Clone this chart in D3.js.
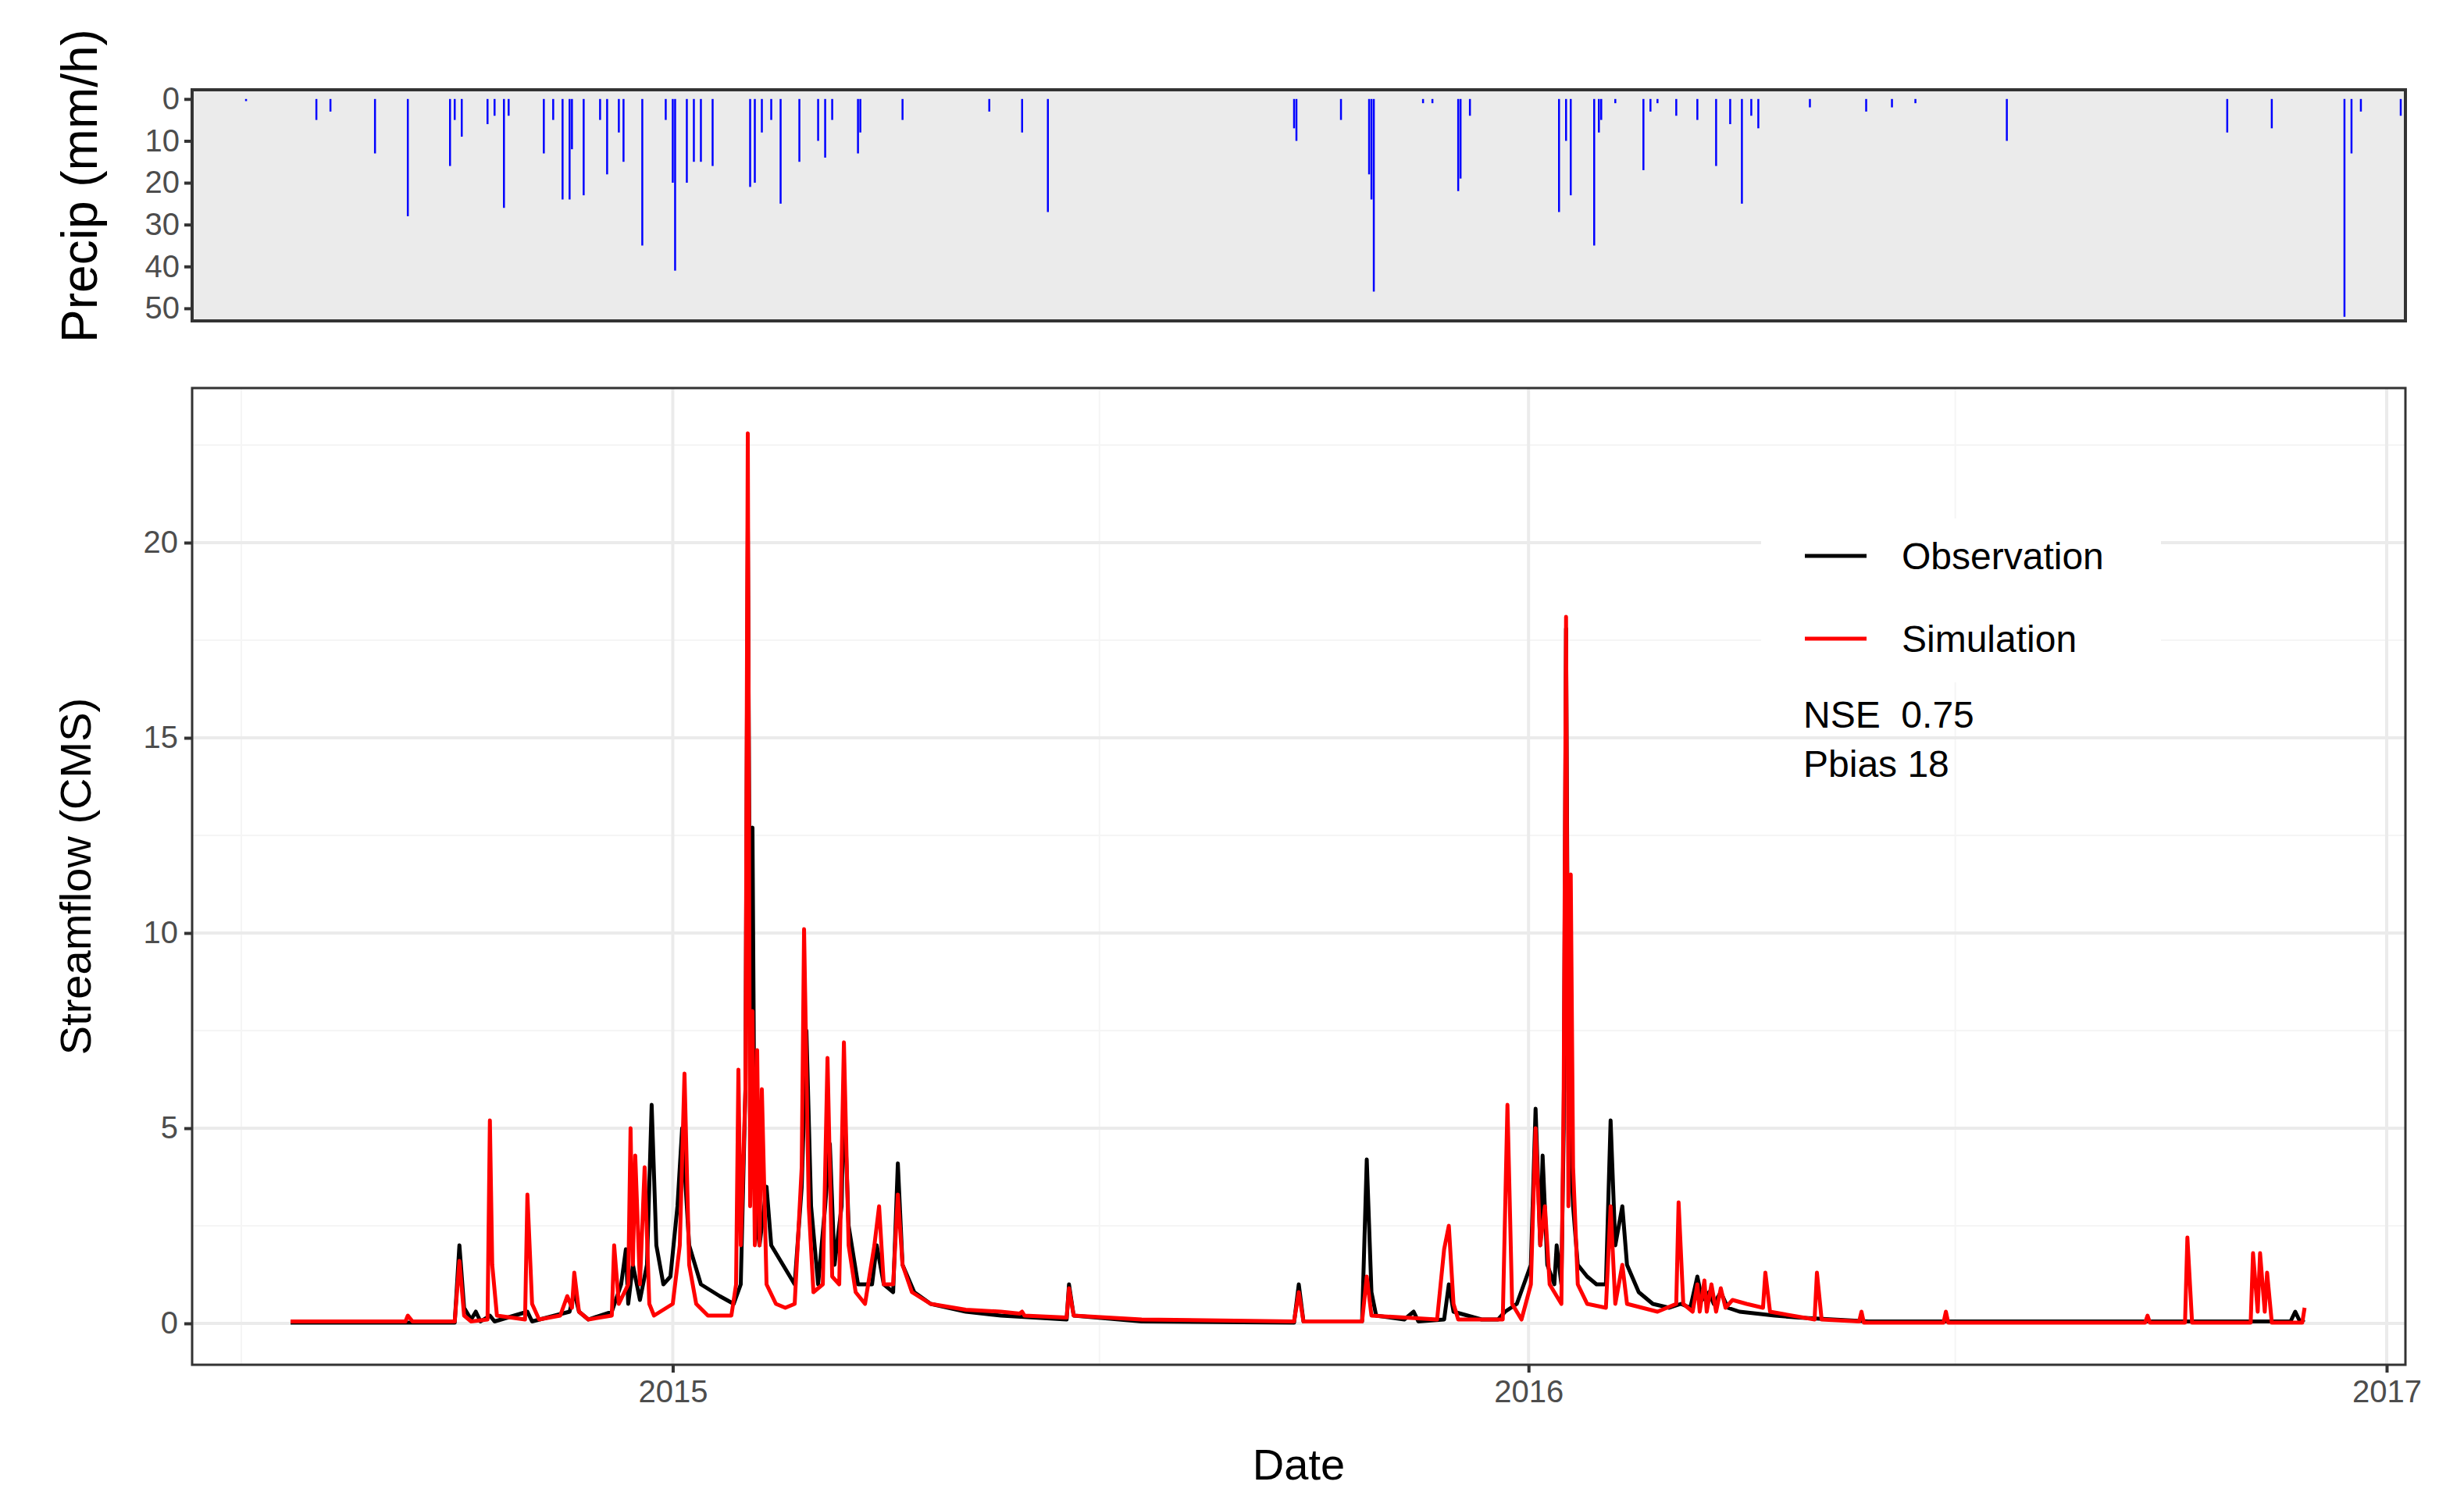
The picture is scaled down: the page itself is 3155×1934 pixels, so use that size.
<!DOCTYPE html>
<html>
<head>
<meta charset="utf-8">
<script src="https://cdn.jsdelivr.net/npm/d3@7"></script>
<style>
body { margin: 0; background: #fff; }
text { font-family: Arial, "Liberation Sans", sans-serif; }
</style>
</head>
<body>
<script>
// days counted from 2015-01-01
var precipDay = [-182, -152, -146, -127, -113, -95, -93, -90, -79, -76, -72, -70, -55, -51, -47, -44, -43, -38, -31, -28,
                 -23, -21, -13, -3, 0, 1, 6, 9, 12, 17, 33, 35, 38, 42, 46, 54, 62, 65, 68, 79, 80, 98, 135, 149, 160,
                 265, 266, 285, 297, 298, 299, 320, 324, 335, 336, 340, 378, 381, 383, 393, 395, 396, 402, 414, 417, 420, 428,
                 437, 445, 451, 456, 460, 463, 485, 509, 520, 530, 569, 663, 682, 713, 716, 720, 737];
var precipVal = [0.5, 5, 3, 13, 28, 16, 5, 9, 6, 4, 26, 4, 13, 5, 24, 24, 12, 23, 5, 18,
                 8, 15, 35, 5, 20, 41, 20, 15, 15, 16, 21, 20, 8, 5, 25, 15, 10, 14, 5, 13, 8, 5, 3, 8, 27,
                 7, 10, 5, 18, 24, 46, 1, 1, 22, 19, 4, 27, 10, 23, 35, 8, 5, 1, 17, 3, 1, 4,
                 5, 16, 6, 25, 4, 7, 2, 3, 2, 1, 10, 8, 7, 52, 13, 3, 4];

var obsDay = [-163, -93, -91, -89, -86, -84, -82, -78, -76, -62, -60, -44, -42, -40, -36, -26, -22, -20, -19, -17, -14, -11, -9, -7, -4, -1,
              2, 4, 7, 12, 20, 26, 29, 31, 32, 33, 34, 35, 37, 40, 42, 47, 52, 55, 57, 59, 62, 65, 67, 69, 72, 73, 75, 79, 85, 87, 90, 94,
              96, 98, 103, 110, 125, 140, 168, 169, 171, 200, 265, 267, 269, 294, 296, 298, 300, 312, 316, 318, 329, 331, 333, 345, 352,
              355, 360, 366, 368, 370, 371, 373, 376, 377, 379, 380, 381, 382, 384, 386, 390, 394, 398, 400, 402, 405, 407, 412, 418, 425,
              430, 434, 437, 439, 442, 444, 447, 450, 455, 470, 480, 495, 510, 690, 692, 694, 696];
var obsVal = [0.02, 0.02, 2.0, 0.4, 0.1, 0.3, 0.05, 0.2, 0.05, 0.3, 0.05, 0.3, 0.8, 0.3, 0.1, 0.3, 1.0, 1.9, 0.5, 1.5, 0.6, 1.5, 5.6, 2.0, 1.0, 1.2,
              3.0, 5.0, 2.0, 1.0, 0.7, 0.5, 1.0, 6.0, 20.4, 8.0, 12.7, 3.0, 2.0, 3.5, 2.0, 1.5, 1.0, 3.5, 7.5, 3.0, 1.0, 3.0, 4.6, 1.5, 3.0, 6.0, 2.5, 1.0, 1.0, 2.0, 1.0, 0.8,
              4.1, 1.5, 0.8, 0.5, 0.3, 0.2, 0.1, 1.0, 0.2, 0.05, 0.02, 1.0, 0.05, 0.05, 4.2, 0.8, 0.2, 0.1, 0.3, 0.05, 0.1, 1.0, 0.3, 0.1, 0.1,
              0.3, 0.5, 1.5, 5.5, 2.0, 4.3, 1.5, 1.0, 2.0, 1.0, 5.0, 17.8, 6.0, 3.0, 1.5, 1.2, 1.0, 1.0, 5.2, 2.0, 3.0, 1.5, 0.8, 0.5, 0.4,
              0.5, 0.4, 1.2, 0.6, 0.8, 0.5, 0.8, 0.4, 0.3, 0.2, 0.15, 0.1, 0.05, 0.05, 0.3, 0.05, 0.1];

var simDay = [-163, -114, -113, -111, -93, -91, -89, -86, -79, -78, -77, -75, -63, -62, -60, -57, -48, -45, -43, -42, -40, -36, -26, -25, -23, -19, -18,
              -17, -16, -14, -12, -10, -8, 0, 3, 5, 7, 10, 15, 25, 27, 28, 29, 31, 32, 33, 34, 35, 36, 37, 38, 40, 44, 48, 52, 55, 56, 58, 60,
              64, 66, 68, 71, 73, 75, 78, 82, 86, 88, 90, 94, 96, 98, 102, 110, 125, 140, 148, 149, 150, 168, 169, 171, 200, 265, 267, 269,
              294, 296, 298, 326, 329, 331, 333, 335, 354, 356, 358, 362, 366, 368, 370, 372, 374, 379, 380, 381, 382, 383, 384, 386, 390,
              398, 400, 402, 405, 407, 420, 428, 429, 431, 435, 437, 438, 440, 441, 443, 445, 447, 449, 452, 458, 465, 466, 468, 487, 488,
              490, 506, 507, 508, 542, 543, 544, 628, 629, 630, 645, 646, 648, 673, 674, 676, 677, 679, 680, 682, 695, 696];
var simVal = [0.05, 0.05, 0.2, 0.05, 0.05, 1.6, 0.2, 0.05, 0.1, 5.2, 1.5, 0.2, 0.1, 3.3, 0.5, 0.1, 0.2, 0.7, 0.4, 1.3, 0.3, 0.1, 0.2, 2.0, 0.5, 1.0, 5.0,
              1.5, 4.3, 1.0, 4.0, 0.5, 0.2, 0.5, 2.0, 6.4, 1.5, 0.5, 0.2, 0.2, 1.0, 6.5, 2.0, 6.0, 22.8, 3.0, 8.0, 2.0, 7.0, 2.0, 6.0, 1.0, 0.5, 0.4, 0.5, 4.0, 10.1, 3.0, 0.8,
              1.0, 6.8, 1.2, 1.0, 7.2, 2.0, 0.8, 0.5, 2.0, 3.0, 1.0, 1.0, 3.3, 1.5, 0.8, 0.5, 0.35, 0.3, 0.25, 0.3, 0.2, 0.15, 0.9, 0.2, 0.1, 0.05, 0.8, 0.05,
              0.05, 1.2, 0.2, 0.1, 1.9, 2.5, 0.5, 0.1, 0.1, 5.6, 0.5, 0.1, 1.0, 5.0, 2.0, 3.0, 1.0, 0.5, 6.0, 18.1, 3.0, 11.5, 4.0, 1.0, 0.5,
              0.4, 3.0, 0.5, 1.5, 0.5, 0.3, 0.5, 3.1, 0.5, 0.3, 1.0, 0.3, 1.1, 0.3, 1.0, 0.3, 0.9, 0.4, 0.6, 0.5, 0.4, 1.3, 0.3, 0.1, 1.3,
              0.1, 0.05, 0.3, 0.02, 0.02, 0.3, 0.02, 0.02, 0.2, 0.02, 0.02, 2.2, 0.02, 0.02, 1.8, 0.3, 1.8, 0.3, 1.3, 0.02, 0.02, 0.4];

var precipTicks = [0, 10, 20, 30, 40, 50];
var flowTicks = [0, 5, 10, 15, 20];
var yearTicks = [2015, 2016, 2017];
var seriesNames = ["Observation", "Simulation"];
var seriesColors = ["#000000", "#ff0000"];
var stats = ["NSE  0.75", "Pbias 18"];

var W = 3155, H = 1934;
var L = 246, R = 3080;
var base = new Date(2015, 0, 1);
function day(d) { return d3.timeDay.offset(base, d); }

var svg = d3.select("body").append("svg").attr("width", W).attr("height", H);

var x = d3.scaleTime().domain([new Date(2014, 5, 10), new Date(2017, 0, 9)]).range([L, R]);

// ---- precip panel
var pT = 115, pB = 411;
var yp = d3.scaleLinear().domain([-2.2, 53]).range([pT, pB]);
svg.append("rect").attr("x", L).attr("y", pT).attr("width", R - L).attr("height", pB - pT).attr("fill", "#ebebeb");
svg.append("g").selectAll("line").data(precipDay).enter().append("line")
   .attr("x1", d => x(day(d))).attr("x2", d => x(day(d)))
   .attr("y1", yp(0)).attr("y2", (d, i) => yp(precipVal[i]))
   .attr("stroke", "#0000ff").attr("stroke-width", 2.5);
svg.append("rect").attr("x", L).attr("y", pT).attr("width", R - L).attr("height", pB - pT)
   .attr("fill", "none").attr("stroke", "#333").attr("stroke-width", 4);
var pax = svg.append("g").attr("transform", "translate(" + L + ",0)")
   .call(d3.axisLeft(yp).tickValues(precipTicks).tickSize(10).tickPadding(6));
pax.select(".domain").remove();
pax.selectAll("line").attr("stroke", "#333").attr("stroke-width", 4);
pax.selectAll("text").attr("font-size", 40).attr("fill", "#4d4d4d");
svg.append("text").attr("transform", "translate(124,238) rotate(-90)")
   .attr("text-anchor", "middle").attr("font-size", 64).text("Precip (mm/h)");

// ---- streamflow panel
var fT = 497, fB = 1748;
var yf = d3.scaleLinear().domain([-1.06, 23.96]).range([fB, fT]);
var g = svg.append("g");
g.append("rect").attr("x", L).attr("y", fT).attr("width", R - L).attr("height", fB - fT).attr("fill", "#fff");
var minorY = [2.5, 7.5, 12.5, 17.5, 22.5];
g.selectAll(".my").data(minorY).enter().append("line")
   .attr("x1", L).attr("x2", R).attr("y1", d => yf(d)).attr("y2", d => yf(d)).attr("stroke", "#f5f5f5").attr("stroke-width", 2);
var minorX = [new Date(2014, 6, 1), new Date(2015, 6, 2), new Date(2016, 6, 1)];
g.selectAll(".mx").data(minorX).enter().append("line")
   .attr("y1", fT).attr("y2", fB).attr("x1", d => x(d)).attr("x2", d => x(d)).attr("stroke", "#f5f5f5").attr("stroke-width", 2);
g.selectAll(".gy").data(flowTicks).enter().append("line")
   .attr("x1", L).attr("x2", R).attr("y1", d => yf(d)).attr("y2", d => yf(d)).attr("stroke", "#ebebeb").attr("stroke-width", 4);
g.selectAll(".gx").data(yearTicks).enter().append("line")
   .attr("y1", fT).attr("y2", fB).attr("x1", d => x(new Date(d, 0, 1))).attr("x2", d => x(new Date(d, 0, 1)))
   .attr("stroke", "#ebebeb").attr("stroke-width", 4);

var line = d3.line().x(d => x(day(d[0]))).y(d => yf(d[1]));
var obs = obsDay.map((d, i) => [d, obsVal[i]]);
var sim = simDay.map((d, i) => [d, simVal[i]]);
g.append("path").datum(obs).attr("d", line).attr("fill", "none").attr("stroke", seriesColors[0]).attr("stroke-width", 5).attr("stroke-linejoin", "round");
g.append("path").datum(sim).attr("d", line).attr("fill", "none").attr("stroke", seriesColors[1]).attr("stroke-width", 5).attr("stroke-linejoin", "round");

g.append("rect").attr("x", L).attr("y", fT).attr("width", R - L).attr("height", fB - fT)
   .attr("fill", "none").attr("stroke", "#333").attr("stroke-width", 3);

var fax = svg.append("g").attr("transform", "translate(" + L + ",0)")
   .call(d3.axisLeft(yf).tickValues(flowTicks).tickSize(10).tickPadding(8));
fax.select(".domain").remove();
fax.selectAll("line").attr("stroke", "#333").attr("stroke-width", 4);
fax.selectAll("text").attr("font-size", 40).attr("fill", "#4d4d4d");

var xax = svg.append("g").attr("transform", "translate(0," + fB + ")")
   .call(d3.axisBottom(x).tickValues(yearTicks.map(d => new Date(d, 0, 1))).tickFormat(d3.timeFormat("%Y")).tickSize(10).tickPadding(10));
xax.select(".domain").remove();
xax.selectAll("line").attr("stroke", "#333").attr("stroke-width", 4);
xax.selectAll("text").attr("font-size", 40).attr("fill", "#4d4d4d");

svg.append("text").attr("x", (L + R) / 2).attr("y", 1895).attr("text-anchor", "middle").attr("font-size", 56).text("Date");
svg.append("text").attr("transform", "translate(116," + ((fT + fB) / 2) + ") rotate(-90)")
   .attr("text-anchor", "middle").attr("font-size", 56).text("Streamflow (CMS)");

// ---- legend
var lg = svg.append("g").attr("transform", "translate(2255,664)");
lg.append("rect").attr("x", 0).attr("y", 0).attr("width", 512).attr("height", 210).attr("fill", "#fff");
seriesNames.forEach(function (n, i) {
  var yy = 48 + i * 106;
  lg.append("line").attr("x1", 56).attr("x2", 135).attr("y1", yy).attr("y2", yy).attr("stroke", seriesColors[i]).attr("stroke-width", 5);
  lg.append("text").attr("x", 180).attr("y", yy + 17).attr("font-size", 48).text(n);
});
svg.selectAll(".stat").data(stats).enter().append("text")
   .attr("x", 2309).attr("y", (d, i) => 932 + i * 63).attr("font-size", 48).attr("xml:space", "preserve").text(d => d);
</script>
</body>
</html>
